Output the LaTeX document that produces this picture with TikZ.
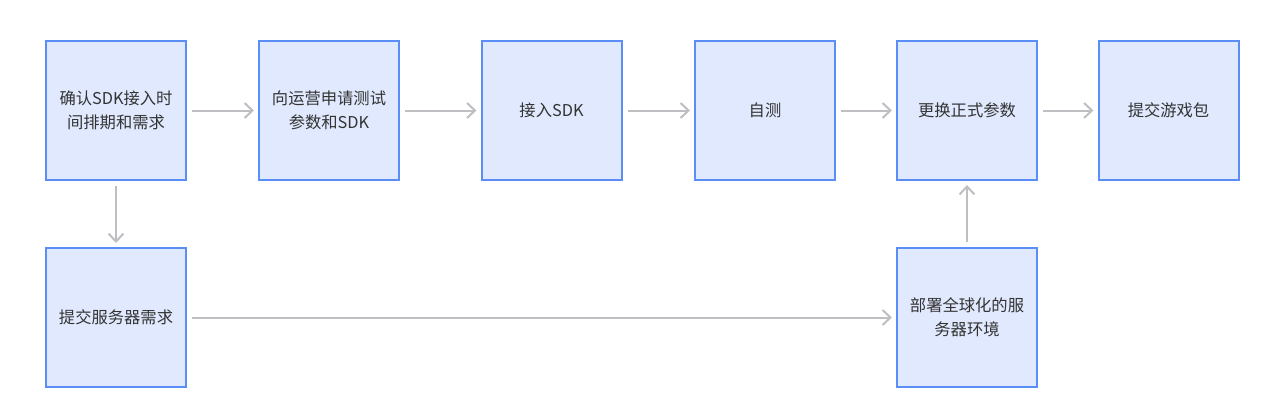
\documentclass[tikz,border=0pt]{standalone}
\usepackage{fontspec}
\setmainfont{Noto Sans CJK SC}
\usetikzlibrary{arrows.meta}
\definecolor{boxfill}{HTML}{E0E9FD}
\definecolor{boxline}{HTML}{5B8DF6}
\definecolor{arrgray}{HTML}{BEBEC3}
\definecolor{txt}{HTML}{333333}
\tikzset{
  stepbox/.style={draw=boxline, fill=boxfill, line width=2pt, minimum width=140pt, minimum height=139pt,
    inner sep=0pt, align=center, text=txt, font=\fontsize{16.3pt}{24pt}\selectfont},
  conn/.style={draw=arrgray, line width=2pt, shorten <=5pt, shorten >=4pt,
    -{Straight Barb[length=8pt,width=15pt,line width=2pt]}}
}
\begin{document}
\begin{tikzpicture}[x=1pt,y=-1pt]
\useasboundingbox (0,0) rectangle (1280,410);
\node[stepbox] (a) at (116,110.5) {确认SDK接入时\\间排期和需求};
\node[stepbox] (b) at (329,110.5) {向运营申请测试\\参数和SDK};
\node[stepbox] (c) at (551.5,110.5) {接入SDK};
\node[stepbox] (d) at (765,110.5) {自测};
\node[stepbox] (e) at (967,110.5) {更换正式参数};
\node[stepbox] (f) at (1168.5,110.5) {提交游戏包};
\node[stepbox] (g) at (116,317.5) {提交服务器需求};
\node[stepbox] (h) at (967,317.5) {部署全球化的服\\务器环境};
\draw[conn] (a) -- (b);
\draw[conn] (b) -- (c);
\draw[conn] (c) -- (d);
\draw[conn] (d) -- (e);
\draw[conn] (e) -- (f);
\draw[conn] (a) -- (g);
\draw[conn] (g) -- (h);
\draw[conn] (h) -- (e);
\end{tikzpicture}
\end{document}
